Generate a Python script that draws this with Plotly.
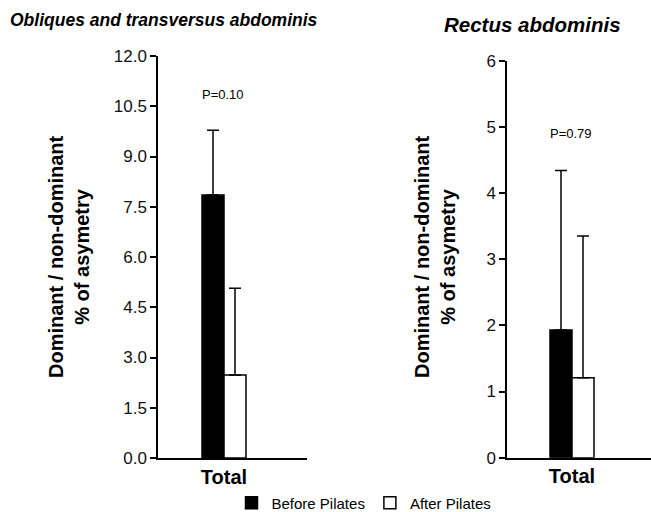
import plotly.graph_objects as go

categories = ["Total"]
series_names = ["Before Pilates", "After Pilates"]

# Obliques and transversus abdominis
obl_before = [7.85]
obl_before_sd = [1.93]
obl_after = [2.48]
obl_after_sd = [2.59]
obl_p = "P=0.10"

# Rectus abdominis
rec_before = [1.93]
rec_before_sd = [2.41]
rec_after = [1.21]
rec_after_sd = [2.14]
rec_p = "P=0.79"

obl_ticks = [0, 1.5, 3.0, 4.5, 6.0, 7.5, 9.0, 10.5, 12.0]
rec_ticks = [0, 1, 2, 3, 4, 5, 6]

W, H = 651, 512
FONT = "Liberation Sans, Arial, sans-serif"

fig = go.Figure()

def add_bars(xa, ya, before, bsd, after, asd, unit_px, show):
    bw = 22.0 / unit_px
    fig.add_trace(go.Bar(
        x=categories, y=before, name=series_names[0], xaxis=xa, yaxis=ya,
        width=bw, offset=-bw, marker=dict(color="black", line=dict(color="black", width=1.5)),
        error_y=dict(type="data", symmetric=False, array=bsd, arrayminus=[0],
                     color="black", thickness=1.5, width=6),
        showlegend=show, legendgroup="b"))
    fig.add_trace(go.Bar(
        x=categories, y=after, name=series_names[1], xaxis=xa, yaxis=ya,
        width=bw, offset=0, marker=dict(color="white", line=dict(color="black", width=1.5)),
        error_y=dict(type="data", symmetric=False, array=asd, arrayminus=[0],
                     color="black", thickness=1.5, width=6),
        showlegend=show, legendgroup="a"))

# left: axis 158..307 px, right: 507..651 px
add_bars("x", "y", obl_before, obl_before_sd, obl_after, obl_after_sd, 149.0, True)
add_bars("x2", "y2", rec_before, rec_before_sd, rec_after, rec_after_sd, 144.0, False)

axis_common = dict(showline=True, linecolor="black", linewidth=1.5, showgrid=False,
                   zeroline=False, automargin=False,
                   tickfont=dict(family=FONT, size=17, color="#111"))
xtick_font = dict(family=FONT, size=20, color="black", weight="bold")

fig.update_layout(
    width=W, height=H,
    margin=dict(l=0, r=0, t=0, b=0, autoexpand=False),
    plot_bgcolor="white", paper_bgcolor="white",
    barmode="overlay",
    font=dict(family=FONT, color="black"),
    xaxis=dict(domain=[158 / W, 307 / W], range=[-66 / 149, 83 / 149], anchor="y",
               ticks="", **{**axis_common, "tickfont": xtick_font}),
    yaxis=dict(domain=[(H - 458) / H, (H - 56) / H], range=[0, 12], anchor="x",
               tickvals=obl_ticks, tickformat=".1f", ticks="outside", ticklen=6,
               tickwidth=1.5, tickcolor="black", **axis_common),
    xaxis2=dict(domain=[507 / W, 1.0], range=[-65 / 144, 79 / 144], anchor="y2",
                ticks="", **{**axis_common, "tickfont": xtick_font}),
    yaxis2=dict(domain=[(H - 457.7) / H, (H - 60.7) / H], range=[0, 6], anchor="x2",
                tickvals=rec_ticks, ticks="outside", ticklen=6,
                tickwidth=1.5, tickcolor="black", **axis_common),
    legend=dict(orientation="h", x=364 / W, xanchor="center", y=(H - 503) / H, yanchor="middle",
                font=dict(family=FONT, size=15, color="black"), bgcolor="rgba(0,0,0,0)",
                itemwidth=30),
)

ytitle = "Dominant / non-dominant<br>% of asymetry"
fig.add_annotation(text=ytitle, xref="paper", yref="paper", x=69 / W, y=(H - 257) / H,
                   textangle=-90, showarrow=False, xanchor="center", yanchor="middle",
                   font=dict(family=FONT, size=20, color="black", weight="bold"))
fig.add_annotation(text=ytitle, xref="paper", yref="paper", x=435 / W, y=(H - 257) / H,
                   textangle=-90, showarrow=False, xanchor="center", yanchor="middle",
                   font=dict(family=FONT, size=20, color="black", weight="bold"))

fig.add_annotation(text="Obliques and transversus abdominis", xref="paper", yref="paper",
                   x=164 / W, y=(H - 20) / H, showarrow=False, xanchor="center", yanchor="middle",
                   font=dict(family=FONT, size=17.5, color="black", weight="bold", style="italic"))
fig.add_annotation(text="Rectus abdominis", xref="paper", yref="paper",
                   x=532 / W, y=(H - 24) / H, showarrow=False, xanchor="center", yanchor="middle",
                   font=dict(family=FONT, size=20.5, color="black", weight="bold", style="italic"))

fig.add_annotation(text=obl_p, xref="x", yref="y", x=-0.01, y=10.85, showarrow=False,
                   font=dict(family=FONT, size=13, color="black"))
fig.add_annotation(text=rec_p, xref="x2", yref="y2", x=-0.01, y=4.9, showarrow=False,
                   font=dict(family=FONT, size=13, color="black"))

fig.write_html("out.html", config={"displayModeBar": False},
               post_script="document.body.style.margin='0';document.body.style.overflow='hidden';")
